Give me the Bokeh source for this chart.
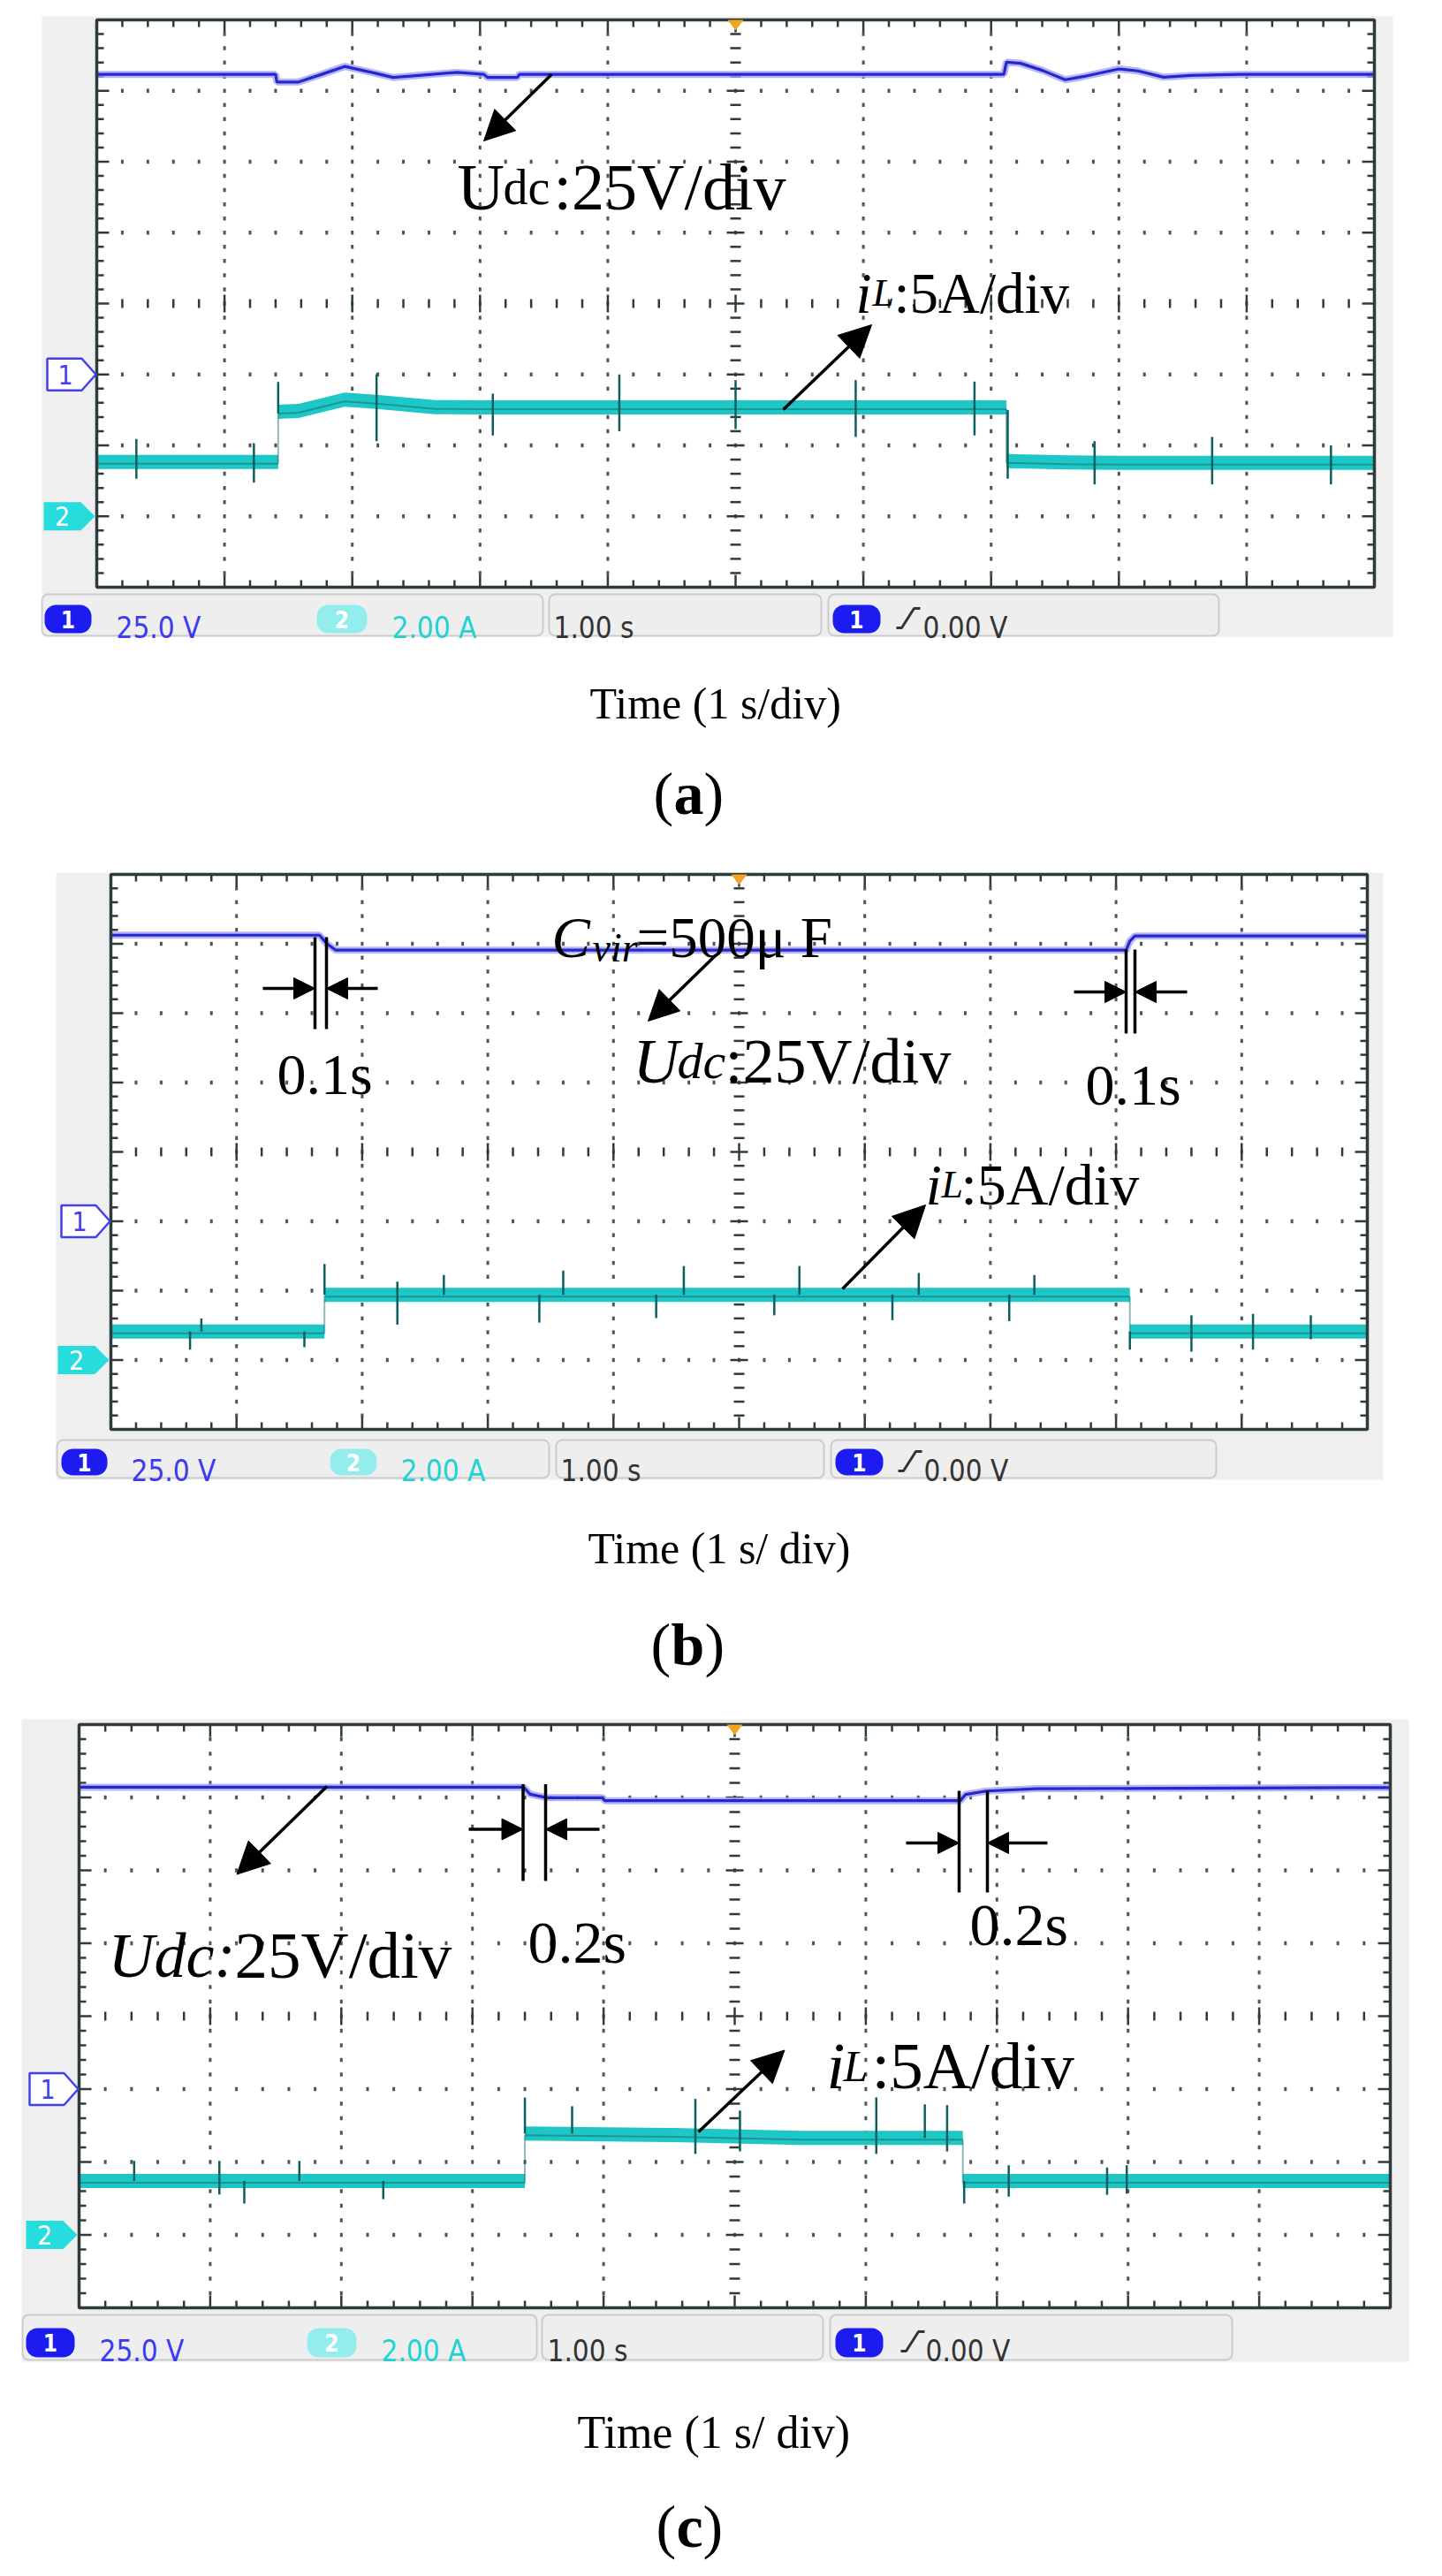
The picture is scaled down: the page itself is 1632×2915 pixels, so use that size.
import numpy as np
from bokeh.plotting import figure
from bokeh.models import Range1d, Arrow, NormalHead, BoxAnnotation
from bokeh.layouts import column
from bokeh.core.properties import value
from bokeh.embed import file_html
from bokeh.resources import INLINE

# ---------------- oscilloscope settings ----------------
V_PER_DIV = 25.0          # channel 1 (Udc)
A_PER_DIV = 2.0           # channel 2 (iL)
CH1_GROUND_DIV = 3        # marker "1" (divisions from bottom)
CH2_GROUND_DIV = 1        # marker "2"
TRIGGER_T = 5.0           # s (1 s/div)
status_ch1 = "25.0 V"
status_ch2 = "2.00 A"
status_time = "1.00 s"
status_trig = "0.00 V"

# ---------------- panel (a) ----------------
t_udc_a = [0, 1.40, 1.41, 1.58, 1.76, 1.94, 2.15, 2.32, 2.54, 2.82, 3.03, 3.06, 3.29, 3.31,
           7.10, 7.12, 7.23, 7.40, 7.58, 7.72, 8.00, 8.15, 8.35, 8.56, 8.95, 10.0]
udc_a = [105.8, 105.8, 103.1, 103.1, 105.8, 108.6, 106.5, 104.7, 105.5, 106.5, 105.8, 104.7, 104.7, 105.8,
         105.8, 110.1, 109.7, 107.2, 103.9, 105.0, 107.7, 107.0, 104.8, 105.4, 105.8, 105.8]
t_il_a = [0, 1.42, 1.42, 1.58, 1.94, 2.19, 2.65, 3.00, 7.12, 7.12, 7.60, 8.00, 10.0]
il_a = [1.53, 1.53, 2.95, 2.97, 3.29, 3.23, 3.08, 3.07, 3.07, 1.56, 1.52, 1.51, 1.51]
spike_t_a = [0.31, 1.23, 1.42, 2.19, 3.10, 4.09, 5.00, 5.94, 6.87, 7.13, 7.81, 8.73, 9.66]
spike_hi_a = [2.18, 2.06, 3.79, 4.01, 3.46, 4.00, 3.84, 3.84, 3.80, 3.00, 2.12, 2.24, 2.00]
spike_lo_a = [1.06, 0.95, 2.90, 2.12, 2.28, 2.40, 2.46, 2.24, 2.28, 1.06, 0.90, 0.90, 0.90]

# ---------------- panel (b) ----------------
t_udc_b = [0, 1.66, 1.72, 1.79, 8.08, 8.11, 8.15, 10.0]
udc_b = [103.1, 103.1, 100.0, 97.7, 97.7, 101.0, 102.8, 102.8]
t_il_b = [0, 1.70, 1.70, 8.11, 8.11, 10.0]
il_b = [0.82, 0.82, 1.88, 1.88, 0.82, 0.82]
spike_t_b = [0.63, 0.72, 1.54, 1.70, 2.28, 2.65, 3.41, 3.60, 4.34, 4.56, 5.28, 5.48, 6.22, 6.43,
             7.15, 7.35, 8.11, 8.60, 9.09, 9.55]
spike_hi_b = [0.82, 1.20, 0.82, 2.77, 2.26, 2.45, 1.88, 2.58, 1.88, 2.71, 1.88, 2.71, 1.88, 2.51,
              1.88, 2.45, 0.82, 1.29, 1.33, 1.29]
spike_lo_b = [0.30, 0.82, 0.37, 1.88, 1.02, 1.88, 1.08, 1.88, 1.21, 1.88, 1.29, 1.88, 1.15, 1.88,
              1.12, 1.88, 0.30, 0.24, 0.30, 0.60]

# ---------------- panel (c) ----------------
t_udc_c = [0, 3.39, 3.44, 3.57, 3.99, 4.01, 6.72, 6.76, 6.92, 7.30, 10.0]
udc_c = [103.5, 103.5, 101.1, 99.9, 99.9, 98.9, 98.9, 101.0, 102.2, 103.0, 103.4]
t_il_c = [0, 3.40, 3.40, 4.50, 5.50, 6.74, 6.74, 10.0]
il_c = [1.48, 1.48, 2.78, 2.74, 2.66, 2.66, 1.48, 1.48]
spike_t_c = [0.42, 1.07, 1.26, 1.68, 2.32, 3.40, 3.76, 4.70, 5.04, 6.08, 6.45, 6.62, 6.75, 7.09, 7.84, 7.99]
spike_hi_c = [2.03, 2.03, 1.48, 2.03, 1.48, 3.77, 3.53, 3.73, 3.41, 3.77, 3.58, 3.56, 1.48, 1.91, 1.85, 1.91]
spike_lo_c = [1.48, 1.11, 0.86, 1.48, 0.98, 2.78, 2.78, 2.22, 2.29, 2.22, 2.66, 2.29, 0.86, 1.05, 1.10, 1.13]

# ---------------- styles ----------------
SERIF = "Liberation Serif"
SANS_N = "'Liberation Sans Narrow', 'DejaVu Sans Condensed', 'Liberation Sans', sans-serif"
BG_GRAY = "#efefef"
FRAME = "#2f3b3b"
DOT = "#4d5555"
UDC_CORE = "#2626cf"
UDC_HALO = "#a4a4f2"
IL_BAND = "#1fc6c6"
IL_DARK = "#0d5f5f"
BLUE_BADGE = "#1c1cf0"
CYAN_BADGE = "#93eded"
PAGE_W = 1616

# layout of each panel, in reference-picture pixels
PANELS = [
    dict(name="a", band=(8, 950), frame=(117, 1563, 30, 672), bg=(55, 26, 1584, 728),
         t_udc=t_udc_a, udc=udc_a, t_il=t_il_a, il=il_a,
         sp=(spike_t_a, spike_hi_a, spike_lo_a),
         status=dict(y=(680, 727), boxes=[(55, 622), (629, 937), (945, 1387)], by=(692, 724),
                     b1=(58, 111), t1=139, b2=(366, 423), t2=451, t3=634, b3=(950, 1004), slope=1022,
                     t4=1052, base=718),
         labels=[("U", 525, 219, 74, "normal"), ("dc", 577, 219, 56, "normal"),
                 (":25V/div", 634, 219, 74, "normal"),
                 ("i", 976, 339, 65, "italic"), ("L", 995, 339, 44, "italic"),
                 (":5A/div", 1019, 339, 65, "normal"),
                 ("Time (1 s/div)", 675, 803, 50, "normal"),
                 ("(", 747, 905, 68, "normal"), ("a", 770, 905, 68, "bold"), (")", 804, 905, 68, "normal")],
         arrows=[(632, 91.5, 555, 167, 34), (894, 471, 994, 375, 36)],
         vlines=[]),
    dict(name="b", band=(950, 1930), frame=(133, 1555, 997, 1625), bg=(71, 995, 1573, 1682),
         t_udc=t_udc_b, udc=udc_b, t_il=t_il_b, il=il_b,
         sp=(spike_t_b, spike_hi_b, spike_lo_b),
         status=dict(y=(1637, 1680), boxes=[(72, 629), (637, 940), (948, 1384)], by=(1647, 1677),
                     b1=(77, 129), t1=156, b2=(381, 434), t2=461, t3=642, b3=(953, 1007), slope=1024,
                     t4=1053, base=1672),
         labels=[("C", 632, 1068, 65, "italic"), ("vir", 678, 1080, 46, "italic"),
                 ("=500\u03bc F", 728, 1068, 65, "normal"),
                 ("U", 724, 1208, 72, "italic"), ("dc", 774, 1208, 58, "italic"),
                 (":25V/div", 828, 1208, 72, "normal"),
                 ("0.1s", 321, 1223, 66, "normal"), ("0.1s", 1236, 1235, 66, "normal"),
                 ("i", 1055, 1348, 66, "italic"), ("L", 1073, 1348, 44, "italic"),
                 (":5A/div", 1095, 1348, 66, "normal"),
                 ("Time (1 s/ div)", 673, 1759, 50, "normal"),
                 ("(", 744, 1868, 68, "normal"), ("b", 767, 1868, 68, "bold"), (")", 805, 1868, 68, "normal")],
         arrows=[(818, 1088, 741, 1163, 34), (961, 1466, 1055, 1371, 36),
                 (305, 1126, 364, 1126, 24), (435, 1126, 377, 1126, 24),
                 (1223, 1130, 1282, 1130, 24), (1351, 1130, 1292, 1130, 24)],
         vlines=[(364, 1068, 1172), (377, 1068, 1172), (1282, 1082, 1177), (1292, 1082, 1177)]),
    dict(name="c", band=(1930, 2907), frame=(97, 1581, 1959, 2619), bg=(32, 1953, 1602, 2680),
         t_udc=t_udc_c, udc=udc_c, t_il=t_il_c, il=il_c,
         sp=(spike_t_c, spike_hi_c, spike_lo_c),
         status=dict(y=(2627, 2678), boxes=[(33, 615), (621, 939), (947, 1402)], by=(2642, 2675),
                     b1=(37, 92), t1=120, b2=(355, 411), t2=439, t3=627, b3=(953, 1007), slope=1027,
                     t4=1055, base=2668),
         labels=[("Udc:", 130, 2220, 72, "italic"), ("25V/div", 273, 2220, 75, "normal"),
                 ("0.2s", 605, 2205, 68, "normal"), ("0.2s", 1105, 2185, 68, "normal"),
                 ("i", 943, 2345, 75, "italic"), ("L", 962, 2345, 50, "italic"),
                 (":5A/div", 994, 2345, 75, "normal"),
                 ("Time (1 s/ div)", 661, 2760, 52, "normal"),
                 ("(", 750, 2866, 68, "normal"), ("c", 773, 2866, 68, "bold"), (")", 803, 2866, 68, "normal")],
         arrows=[(377.5, 2029, 275.5, 2128.6, 36), (798, 2420, 895.5, 2327.5, 36),
                 (538, 2077.5, 599.5, 2077.5, 24), (686, 2077.5, 625, 2077.5, 24),
                 (1033, 2093, 1093, 2093, 24), (1193, 2093, 1125, 2093, 24)],
         vlines=[(599.5, 2026.5, 2136), (625, 2026.5, 2136), (1093, 2034, 2149), (1125, 2034, 2149)]),
]


def make_panel(g):
    fx0, fx1, fy0, fy1 = g["frame"]
    by0, by1 = g["band"]
    kx = (fx1 - fx0) / 10.0
    ky = (fy1 - fy0) / 8.0

    def X(px):
        return (px - fx0) / kx

    def Y(py):
        return (fy1 - py) / ky

    p = figure(width=PAGE_W, height=by1 - by0, x_range=Range1d(X(8), X(1624)),
               y_range=Range1d(Y(by1), Y(by0)), output_backend="svg", toolbar_location=None,
               x_axis_type=None, y_axis_type=None, min_border=0)
    p.grid.visible = False
    p.outline_line_color = None
    p.background_fill_color = "white"
    p.border_fill_color = "white"

    def text(x, y, s, size, style="normal", font=SERIF, color="black", align="left", baseline="alphabetic"):
        p.text(x=[X(x)], y=[Y(y)], text=[s], text_font=value(font), text_font_size=value(f"{size}px"),
               text_font_style=value(style), text_color=value(color), text_align=value(align),
               text_baseline=value(baseline))

    # grey instrument background
    gx0, gy0, gx1, gy1 = g["bg"]
    p.add_layout(BoxAnnotation(left=X(gx0), right=X(gx1), top=Y(gy0), bottom=Y(gy1), fill_color=BG_GRAY,
                               fill_alpha=1, line_color=None, level="underlay"))

    # status bar
    st = g["status"]
    sy0, sy1 = st["y"]
    for (x0, x1) in st["boxes"]:
        p.add_layout(BoxAnnotation(left=X(x0), right=X(x1), top=Y(sy0), bottom=Y(sy1), fill_color="#eeeeee",
                                   fill_alpha=1, line_color="#7c7c7c", line_width=2, border_radius=7,
                                   level="underlay"))
    bty0, bty1 = st["by"]
    for (b, col) in [(st["b1"], BLUE_BADGE), (st["b2"], CYAN_BADGE), (st["b3"], BLUE_BADGE)]:
        p.add_layout(BoxAnnotation(left=X(b[0]), right=X(b[1]), top=Y(bty0), bottom=Y(bty1), fill_color=col,
                                   fill_alpha=1, line_color=None, border_radius=13, level="underlay"))
    bmid = (bty0 + bty1) / 2
    text((st["b1"][0] + st["b1"][1]) / 2, bmid, "1", 26, "bold", SANS_N, "white", "center", "middle")
    text((st["b2"][0] + st["b2"][1]) / 2, bmid, "2", 26, "bold", SANS_N, "white", "center", "middle")
    text((st["b3"][0] + st["b3"][1]) / 2, bmid, "1", 26, "bold", SANS_N, "white", "center", "middle")
    text(st["t1"], st["base"], status_ch1, 33, "normal", SANS_N, "#3a3af0")
    text(st["t2"], st["base"], status_ch2, 33, "normal", SANS_N, "#22d2d2")
    text(st["t3"], st["base"], status_time, 33, "normal", SANS_N, "#333333")
    s0 = st["slope"]
    b = st["base"]
    p.line([X(s0), X(s0 + 6), X(s0 + 20), X(s0 + 27)], [Y(b), Y(b), Y(b - 22), Y(b - 22)],
           line_color="#333333", line_width=3)
    text(st["t4"], st["base"], status_trig, 33, "normal", SANS_N, "#333333")

    # white screen
    p.quad(left=[0], right=[10], bottom=[0], top=[8], fill_color="white", line_color=None)

    # graticule dots
    dx, dy = [], []
    for yl in [1, 2, 3, 5, 6, 7]:
        for k in range(1, 50):
            dx.append(k * 0.2)
            dy.append(yl)
    for xl in [1, 2, 3, 4, 6, 7, 8, 9]:
        for k in range(1, 40):
            if k % 5 == 0 and (k // 5) != 4:
                continue
            dx.append(xl)
            dy.append(k * 0.2)
    p.rect(x=dx, y=dy, width=3, height=4.5, width_units="screen", height_units="screen",
           fill_color=DOT, line_color=None)

    # centre cross ticks and frame ticks
    sx0, sy0_, sx1, sy1_ = [], [], [], []
    for k in range(1, 50):
        x = k * 0.2
        L = 10 if k % 5 == 0 else 5
        sx0 += [x]; sx1 += [x]; sy0_ += [4 - L / ky]; sy1_ += [4 + L / ky]
        T = 14 if k % 5 == 0 else 8
        sx0 += [x, x]; sx1 += [x, x]; sy0_ += [8, 0]; sy1_ += [8 - T / ky, T / ky]
    for k in range(1, 40):
        y = k * 0.2
        L = 10 if k % 5 == 0 else 6
        sx0 += [5 - L / kx]; sx1 += [5 + L / kx]; sy0_ += [y]; sy1_ += [y]
        T = 14 if k % 5 == 0 else 8
        sx0 += [0, 10]; sx1 += [T / kx, 10 - T / kx]; sy0_ += [y, y]; sy1_ += [y, y]
    p.segment(x0=sx0, y0=sy0_, x1=sx1, y1=sy1_, line_color=FRAME, line_width=2.5)

    # traces
    t_u = np.array(g["t_udc"])
    u_div = CH1_GROUND_DIV + np.array(g["udc"]) / V_PER_DIV
    t_i = np.array(g["t_il"])
    i_div = CH2_GROUND_DIV + np.array(g["il"]) / A_PER_DIV
    half = 8.0 / ky
    p.varea(x=t_i, y1=i_div - half, y2=i_div + half, fill_color=IL_BAND)
    st_t, st_hi, st_lo = g["sp"]
    p.segment(x0=st_t, y0=CH2_GROUND_DIV + np.array(st_lo) / A_PER_DIV, x1=st_t,
              y1=CH2_GROUND_DIV + np.array(st_hi) / A_PER_DIV, line_color=IL_DARK, line_width=2.5)
    p.line(t_i, i_div - 2.0 / ky, line_color=IL_DARK, line_width=2, line_alpha=0.45)
    p.line(t_u, u_div, line_color=UDC_HALO, line_width=8, line_alpha=0.8)
    p.line(t_u, u_div, line_color=UDC_CORE, line_width=3.2)

    # frame
    p.quad(left=[0], right=[10], bottom=[0], top=[8], fill_color=None, line_color=FRAME, line_width=3.5)

    # trigger marker
    p.patch([TRIGGER_T - 9 / kx, TRIGGER_T + 9 / kx, TRIGGER_T], [8, 8, 8 - 12 / ky],
            fill_color="#f2a424", line_color=None)

    # channel ground markers
    yc1 = fy1 - CH1_GROUND_DIV * ky
    xl, xr, tip, h = fx0 - 56, fx0 - 17, fx0 - 1, 18
    p.patch([X(xl), X(xr), X(tip), X(xr), X(xl)], [Y(yc1 - h), Y(yc1 - h), Y(yc1), Y(yc1 + h), Y(yc1 + h)],
            fill_color="white", line_color="#4040f0", line_width=2.5)
    text((xl + xr) / 2 + 1, yc1, "1", 30, "normal", SANS_N, "#4040f0", "center", "middle")
    yc2 = fy1 - CH2_GROUND_DIV * ky
    xl2, xr2, tip2, h2 = fx0 - 60, fx0 - 18, fx0 - 2, 16
    p.patch([X(xl2), X(xr2), X(tip2), X(xr2), X(xl2)],
            [Y(yc2 - h2), Y(yc2 - h2), Y(yc2), Y(yc2 + h2), Y(yc2 + h2)],
            fill_color="#27dcdc", line_color=None)
    text((xl2 + xr2) / 2, yc2, "2", 30, "normal", SANS_N, "white", "center", "middle")

    # annotation texts
    for (s, x, y, size, style) in g["labels"]:
        text(x, y, s, size, style)

    # timing bars
    if g["vlines"]:
        p.segment(x0=[X(v[0]) for v in g["vlines"]], y0=[Y(v[1]) for v in g["vlines"]],
                  x1=[X(v[0]) for v in g["vlines"]], y1=[Y(v[2]) for v in g["vlines"]],
                  line_color="black", line_width=3.5)

    # arrows
    for (x0, y0, x1, y1, hs) in g["arrows"]:
        p.add_layout(Arrow(end=NormalHead(size=hs, fill_color="black", line_color="black", line_width=1),
                           x_start=X(x0), y_start=Y(y0), x_end=X(x1), y_end=Y(y1),
                           line_color="black", line_width=3.5))
    return p


figs = [make_panel(g) for g in PANELS]
layout = column(*figs, spacing=0)
open("out.html", "w").write(file_html(layout, INLINE))
